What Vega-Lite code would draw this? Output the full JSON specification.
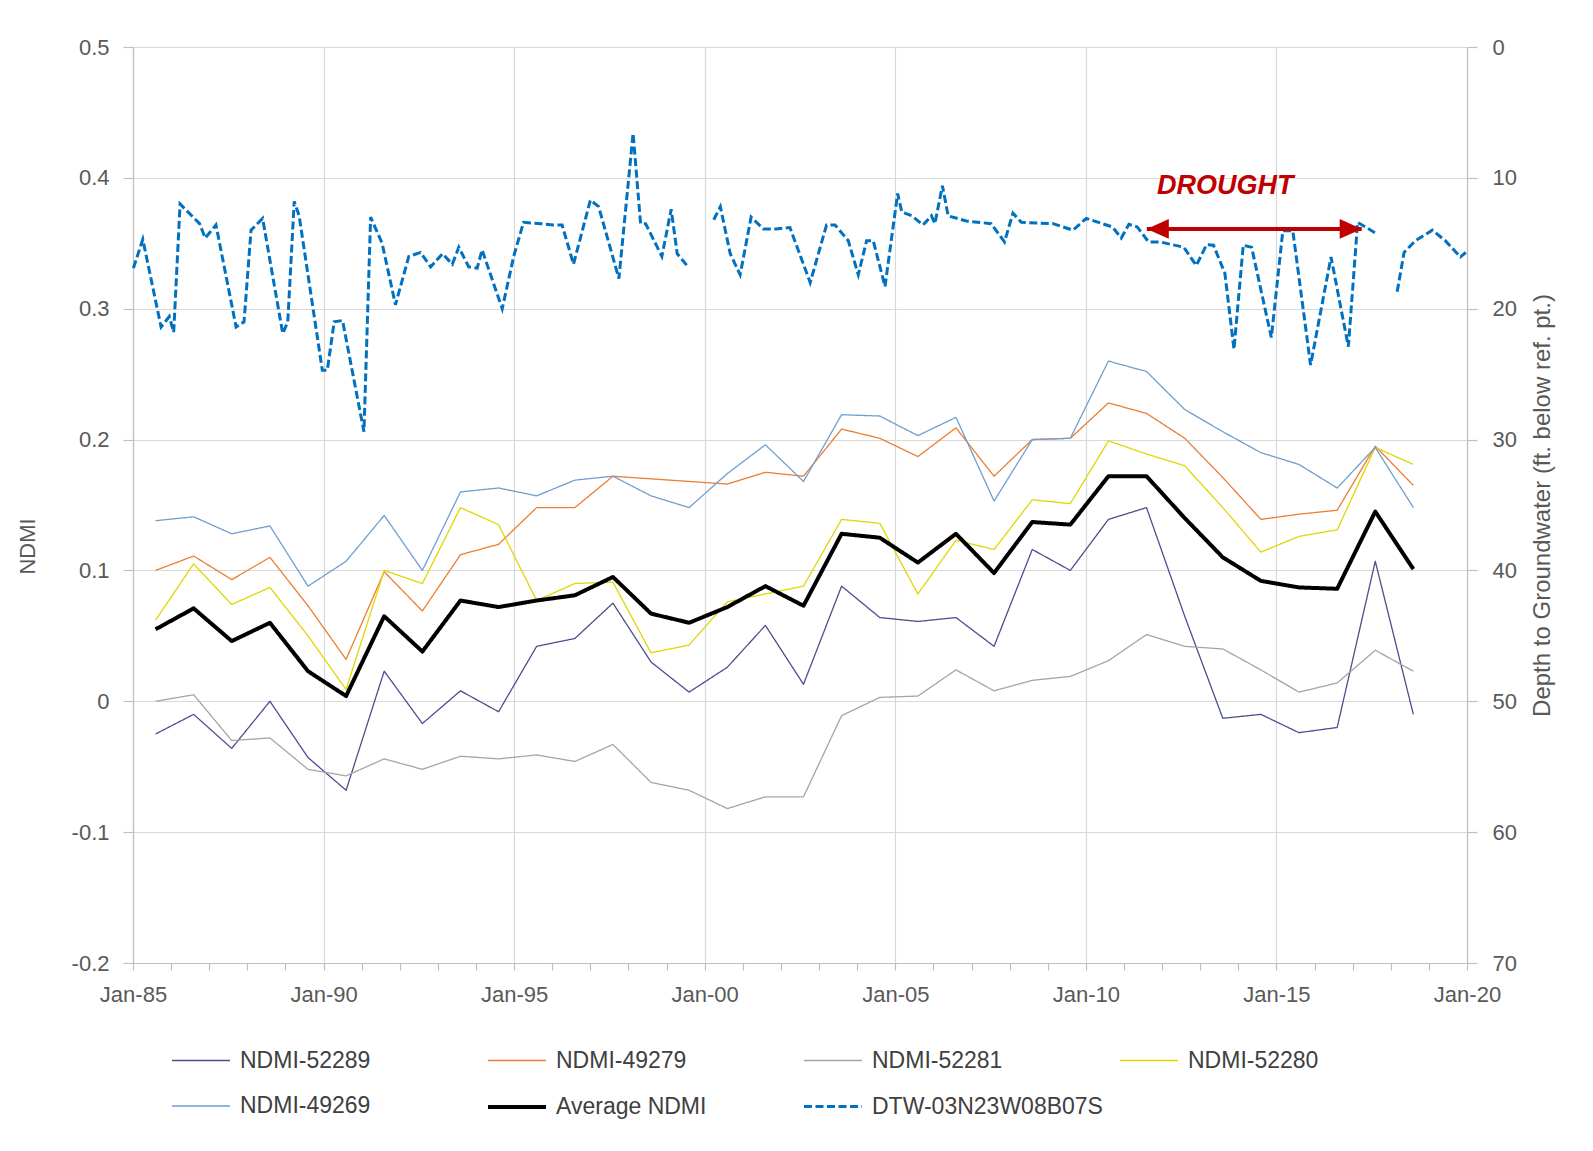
{
  "$schema": "https://vega.github.io/schema/vega-lite/v6.json",
  "width": 1334,
  "height": 916,
  "autosize": {"type": "none"},
  "padding": {"left": 133, "top": 47, "right": 126, "bottom": 188},
  "background": "white",
  "config": {
    "font": "Liberation Sans",
    "view": {"stroke": null},
    "axis": {
      "labelFont": "Liberation Sans",
      "labelFontSize": 22,
      "labelColor": "#595959",
      "titleFont": "Liberation Sans",
      "titleFontSize": 22,
      "titleFontWeight": "normal",
      "titleColor": "#595959",
      "gridColor": "#D9D9D9",
      "gridWidth": 1.2,
      "domainColor": "#BFBFBF",
      "domainWidth": 1.2,
      "tickColor": "#BFBFBF",
      "tickWidth": 1.2
    }
  },
  "datasets": {
    "ndmi": [
      {"date": "1985-08-05", "NDMI-52289": -0.025, "NDMI-49279": 0.100, "NDMI-52281": 0.000, "NDMI-52280": 0.062, "NDMI-49269": 0.138, "Average NDMI": 0.055},
      {"date": "1986-08-05", "NDMI-52289": -0.010, "NDMI-49279": 0.111, "NDMI-52281": 0.005, "NDMI-52280": 0.105, "NDMI-49269": 0.141, "Average NDMI": 0.071},
      {"date": "1987-08-05", "NDMI-52289": -0.036, "NDMI-49279": 0.093, "NDMI-52281": -0.030, "NDMI-52280": 0.074, "NDMI-49269": 0.128, "Average NDMI": 0.046},
      {"date": "1988-08-05", "NDMI-52289": 0.000, "NDMI-49279": 0.110, "NDMI-52281": -0.028, "NDMI-52280": 0.087, "NDMI-49269": 0.134, "Average NDMI": 0.060},
      {"date": "1989-08-05", "NDMI-52289": -0.043, "NDMI-49279": 0.073, "NDMI-52281": -0.052, "NDMI-52280": 0.050, "NDMI-49269": 0.088, "Average NDMI": 0.023},
      {"date": "1990-08-05", "NDMI-52289": -0.068, "NDMI-49279": 0.032, "NDMI-52281": -0.057, "NDMI-52280": 0.009, "NDMI-49269": 0.107, "Average NDMI": 0.004},
      {"date": "1991-08-05", "NDMI-52289": 0.023, "NDMI-49279": 0.099, "NDMI-52281": -0.044, "NDMI-52280": 0.100, "NDMI-49269": 0.142, "Average NDMI": 0.065},
      {"date": "1992-08-05", "NDMI-52289": -0.017, "NDMI-49279": 0.069, "NDMI-52281": -0.052, "NDMI-52280": 0.090, "NDMI-49269": 0.100, "Average NDMI": 0.038},
      {"date": "1993-08-05", "NDMI-52289": 0.008, "NDMI-49279": 0.112, "NDMI-52281": -0.042, "NDMI-52280": 0.148, "NDMI-49269": 0.160, "Average NDMI": 0.077},
      {"date": "1994-08-05", "NDMI-52289": -0.008, "NDMI-49279": 0.120, "NDMI-52281": -0.044, "NDMI-52280": 0.135, "NDMI-49269": 0.163, "Average NDMI": 0.072},
      {"date": "1995-08-05", "NDMI-52289": 0.042, "NDMI-49279": 0.148, "NDMI-52281": -0.041, "NDMI-52280": 0.077, "NDMI-49269": 0.157, "Average NDMI": 0.077},
      {"date": "1996-08-05", "NDMI-52289": 0.048, "NDMI-49279": 0.148, "NDMI-52281": -0.046, "NDMI-52280": 0.090, "NDMI-49269": 0.169, "Average NDMI": 0.081},
      {"date": "1997-08-05", "NDMI-52289": 0.075, "NDMI-49279": 0.172, "NDMI-52281": -0.033, "NDMI-52280": 0.091, "NDMI-49269": 0.172, "Average NDMI": 0.095},
      {"date": "1998-08-05", "NDMI-52289": 0.030, "NDMI-49279": 0.170, "NDMI-52281": -0.062, "NDMI-52280": 0.037, "NDMI-49269": 0.157, "Average NDMI": 0.067},
      {"date": "1999-08-05", "NDMI-52289": 0.007, "NDMI-49279": 0.168, "NDMI-52281": -0.068, "NDMI-52280": 0.043, "NDMI-49269": 0.148, "Average NDMI": 0.060},
      {"date": "2000-08-05", "NDMI-52289": 0.026, "NDMI-49279": 0.166, "NDMI-52281": -0.082, "NDMI-52280": 0.076, "NDMI-49269": 0.174, "Average NDMI": 0.072},
      {"date": "2001-08-05", "NDMI-52289": 0.058, "NDMI-49279": 0.175, "NDMI-52281": -0.073, "NDMI-52280": 0.082, "NDMI-49269": 0.196, "Average NDMI": 0.088},
      {"date": "2002-08-05", "NDMI-52289": 0.013, "NDMI-49279": 0.172, "NDMI-52281": -0.073, "NDMI-52280": 0.088, "NDMI-49269": 0.168, "Average NDMI": 0.073},
      {"date": "2003-08-05", "NDMI-52289": 0.088, "NDMI-49279": 0.208, "NDMI-52281": -0.011, "NDMI-52280": 0.139, "NDMI-49269": 0.219, "Average NDMI": 0.128},
      {"date": "2004-08-05", "NDMI-52289": 0.064, "NDMI-49279": 0.201, "NDMI-52281": 0.003, "NDMI-52280": 0.136, "NDMI-49269": 0.218, "Average NDMI": 0.125},
      {"date": "2005-08-05", "NDMI-52289": 0.061, "NDMI-49279": 0.187, "NDMI-52281": 0.004, "NDMI-52280": 0.082, "NDMI-49269": 0.203, "Average NDMI": 0.106},
      {"date": "2006-08-05", "NDMI-52289": 0.064, "NDMI-49279": 0.209, "NDMI-52281": 0.024, "NDMI-52280": 0.123, "NDMI-49269": 0.217, "Average NDMI": 0.128},
      {"date": "2007-08-05", "NDMI-52289": 0.042, "NDMI-49279": 0.172, "NDMI-52281": 0.008, "NDMI-52280": 0.116, "NDMI-49269": 0.153, "Average NDMI": 0.098},
      {"date": "2008-08-05", "NDMI-52289": 0.116, "NDMI-49279": 0.200, "NDMI-52281": 0.016, "NDMI-52280": 0.154, "NDMI-49269": 0.200, "Average NDMI": 0.137},
      {"date": "2009-08-05", "NDMI-52289": 0.100, "NDMI-49279": 0.201, "NDMI-52281": 0.019, "NDMI-52280": 0.151, "NDMI-49269": 0.201, "Average NDMI": 0.135},
      {"date": "2010-08-05", "NDMI-52289": 0.139, "NDMI-49279": 0.228, "NDMI-52281": 0.031, "NDMI-52280": 0.199, "NDMI-49269": 0.260, "Average NDMI": 0.172},
      {"date": "2011-08-05", "NDMI-52289": 0.148, "NDMI-49279": 0.220, "NDMI-52281": 0.051, "NDMI-52280": 0.189, "NDMI-49269": 0.252, "Average NDMI": 0.172},
      {"date": "2012-08-05", "NDMI-52289": 0.065, "NDMI-49279": 0.201, "NDMI-52281": 0.042, "NDMI-52280": 0.180, "NDMI-49269": 0.223, "Average NDMI": 0.140},
      {"date": "2013-08-05", "NDMI-52289": -0.013, "NDMI-49279": 0.171, "NDMI-52281": 0.040, "NDMI-52280": 0.148, "NDMI-49269": 0.206, "Average NDMI": 0.110},
      {"date": "2014-08-05", "NDMI-52289": -0.010, "NDMI-49279": 0.139, "NDMI-52281": 0.024, "NDMI-52280": 0.114, "NDMI-49269": 0.190, "Average NDMI": 0.092},
      {"date": "2015-08-05", "NDMI-52289": -0.024, "NDMI-49279": 0.143, "NDMI-52281": 0.007, "NDMI-52280": 0.126, "NDMI-49269": 0.181, "Average NDMI": 0.087},
      {"date": "2016-08-05", "NDMI-52289": -0.020, "NDMI-49279": 0.146, "NDMI-52281": 0.014, "NDMI-52280": 0.131, "NDMI-49269": 0.163, "Average NDMI": 0.086},
      {"date": "2017-08-05", "NDMI-52289": 0.107, "NDMI-49279": 0.195, "NDMI-52281": 0.039, "NDMI-52280": 0.194, "NDMI-49269": 0.194, "Average NDMI": 0.145},
      {"date": "2018-08-05", "NDMI-52289": -0.010, "NDMI-49279": 0.165, "NDMI-52281": 0.023, "NDMI-52280": 0.181, "NDMI-49269": 0.148, "Average NDMI": 0.101}
    ],
    "dtw": [
      {"date": "1985-01-05", "DTW-03N23W08B07S": 16.9},
      {"date": "1985-04-05", "DTW-03N23W08B07S": 14.7},
      {"date": "1985-09-27", "DTW-03N23W08B07S": 21.4},
      {"date": "1985-12-15", "DTW-03N23W08B07S": 20.6},
      {"date": "1986-01-26", "DTW-03N23W08B07S": 21.8},
      {"date": "1986-03-28", "DTW-03N23W08B07S": 12.0},
      {"date": "1986-10-01", "DTW-03N23W08B07S": 13.5},
      {"date": "1986-11-24", "DTW-03N23W08B07S": 14.6},
      {"date": "1987-03-07", "DTW-03N23W08B07S": 13.6},
      {"date": "1987-09-16", "DTW-03N23W08B07S": 21.4},
      {"date": "1987-12-01", "DTW-03N23W08B07S": 21.0},
      {"date": "1988-02-06", "DTW-03N23W08B07S": 14.0},
      {"date": "1988-05-27", "DTW-03N23W08B07S": 13.1},
      {"date": "1988-12-06", "DTW-03N23W08B07S": 21.9},
      {"date": "1989-01-23", "DTW-03N23W08B07S": 21.0},
      {"date": "1989-03-26", "DTW-03N23W08B07S": 11.8},
      {"date": "1989-05-12", "DTW-03N23W08B07S": 12.9},
      {"date": "1989-12-20", "DTW-03N23W08B07S": 24.7},
      {"date": "1990-02-06", "DTW-03N23W08B07S": 24.7},
      {"date": "1990-04-13", "DTW-03N23W08B07S": 21.0},
      {"date": "1990-07-02", "DTW-03N23W08B07S": 20.9},
      {"date": "1991-01-23", "DTW-03N23W08B07S": 29.4},
      {"date": "1991-03-28", "DTW-03N23W08B07S": 13.0},
      {"date": "1991-07-16", "DTW-03N23W08B07S": 15.0},
      {"date": "1991-11-21", "DTW-03N23W08B07S": 19.7},
      {"date": "1992-03-28", "DTW-03N23W08B07S": 16.0},
      {"date": "1992-07-19", "DTW-03N23W08B07S": 15.7},
      {"date": "1992-10-23", "DTW-03N23W08B07S": 16.8},
      {"date": "1993-02-14", "DTW-03N23W08B07S": 15.8},
      {"date": "1993-05-19", "DTW-03N23W08B07S": 16.6},
      {"date": "1993-07-20", "DTW-03N23W08B07S": 15.3},
      {"date": "1993-10-23", "DTW-03N23W08B07S": 16.8},
      {"date": "1994-01-12", "DTW-03N23W08B07S": 16.9},
      {"date": "1994-02-28", "DTW-03N23W08B07S": 15.5},
      {"date": "1994-09-09", "DTW-03N23W08B07S": 20.0},
      {"date": "1994-12-28", "DTW-03N23W08B07S": 16.0},
      {"date": "1995-04-01", "DTW-03N23W08B07S": 13.4},
      {"date": "1995-09-15", "DTW-03N23W08B07S": 13.5},
      {"date": "1996-01-10", "DTW-03N23W08B07S": 13.6},
      {"date": "1996-04-05", "DTW-03N23W08B07S": 13.6},
      {"date": "1996-07-23", "DTW-03N23W08B07S": 16.6},
      {"date": "1997-01-01", "DTW-03N23W08B07S": 11.7},
      {"date": "1997-03-21", "DTW-03N23W08B07S": 12.2},
      {"date": "1997-10-01", "DTW-03N23W08B07S": 17.7},
      {"date": "1998-02-14", "DTW-03N23W08B07S": 6.6},
      {"date": "1998-04-27", "DTW-03N23W08B07S": 13.5},
      {"date": "1998-06-14", "DTW-03N23W08B07S": 13.5},
      {"date": "1998-11-17", "DTW-03N23W08B07S": 16.0},
      {"date": "1999-02-14", "DTW-03N23W08B07S": 12.4},
      {"date": "1999-04-13", "DTW-03N23W08B07S": 15.8},
      {"date": "1999-07-16", "DTW-03N23W08B07S": 16.7},
      {"date": "1999-10-15", "DTW-03N23W08B07S": null},
      {"date": "2000-03-28", "DTW-03N23W08B07S": 13.2},
      {"date": "2000-05-30", "DTW-03N23W08B07S": 12.2},
      {"date": "2000-09-02", "DTW-03N23W08B07S": 15.8},
      {"date": "2000-12-06", "DTW-03N23W08B07S": 17.4},
      {"date": "2001-03-21", "DTW-03N23W08B07S": 13.0},
      {"date": "2001-07-16", "DTW-03N23W08B07S": 13.9},
      {"date": "2001-11-15", "DTW-03N23W08B07S": 13.9},
      {"date": "2002-03-28", "DTW-03N23W08B07S": 13.8},
      {"date": "2002-10-08", "DTW-03N23W08B07S": 18.0},
      {"date": "2003-03-14", "DTW-03N23W08B07S": 13.6},
      {"date": "2003-06-03", "DTW-03N23W08B07S": 13.6},
      {"date": "2003-10-08", "DTW-03N23W08B07S": 14.8},
      {"date": "2004-01-12", "DTW-03N23W08B07S": 17.4},
      {"date": "2004-04-01", "DTW-03N23W08B07S": 14.8},
      {"date": "2004-06-03", "DTW-03N23W08B07S": 14.8},
      {"date": "2004-09-24", "DTW-03N23W08B07S": 18.3},
      {"date": "2005-01-23", "DTW-03N23W08B07S": 11.2},
      {"date": "2005-03-04", "DTW-03N23W08B07S": 12.6},
      {"date": "2005-06-07", "DTW-03N23W08B07S": 12.9},
      {"date": "2005-09-24", "DTW-03N23W08B07S": 13.6},
      {"date": "2005-12-13", "DTW-03N23W08B07S": 12.9},
      {"date": "2006-01-15", "DTW-03N23W08B07S": 13.5},
      {"date": "2006-03-28", "DTW-03N23W08B07S": 10.6},
      {"date": "2006-05-22", "DTW-03N23W08B07S": 12.9},
      {"date": "2006-11-13", "DTW-03N23W08B07S": 13.3},
      {"date": "2007-07-08", "DTW-03N23W08B07S": 13.5},
      {"date": "2007-11-13", "DTW-03N23W08B07S": 14.9},
      {"date": "2008-02-02", "DTW-03N23W08B07S": 12.7},
      {"date": "2008-04-23", "DTW-03N23W08B07S": 13.4},
      {"date": "2009-02-21", "DTW-03N23W08B07S": 13.5},
      {"date": "2009-08-29", "DTW-03N23W08B07S": 14.0},
      {"date": "2010-01-05", "DTW-03N23W08B07S": 13.1},
      {"date": "2010-09-12", "DTW-03N23W08B07S": 13.75},
      {"date": "2010-12-06", "DTW-03N23W08B07S": 14.6},
      {"date": "2011-02-17", "DTW-03N23W08B07S": 13.55},
      {"date": "2011-05-08", "DTW-03N23W08B07S": 13.75},
      {"date": "2011-08-25", "DTW-03N23W08B07S": 14.9},
      {"date": "2011-12-15", "DTW-03N23W08B07S": 14.9},
      {"date": "2012-07-27", "DTW-03N23W08B07S": 15.3},
      {"date": "2012-11-24", "DTW-03N23W08B07S": 16.7},
      {"date": "2013-03-03", "DTW-03N23W08B07S": 15.1},
      {"date": "2013-05-08", "DTW-03N23W08B07S": 15.15},
      {"date": "2013-08-25", "DTW-03N23W08B07S": 17.3},
      {"date": "2013-11-20", "DTW-03N23W08B07S": 23.1},
      {"date": "2014-02-17", "DTW-03N23W08B07S": 15.15},
      {"date": "2014-05-08", "DTW-03N23W08B07S": 15.3},
      {"date": "2014-11-13", "DTW-03N23W08B07S": 22.2},
      {"date": "2015-03-03", "DTW-03N23W08B07S": 14.05},
      {"date": "2015-06-07", "DTW-03N23W08B07S": 14.05},
      {"date": "2015-11-24", "DTW-03N23W08B07S": 24.3},
      {"date": "2016-06-07", "DTW-03N23W08B07S": 16.05},
      {"date": "2016-11-20", "DTW-03N23W08B07S": 22.9},
      {"date": "2017-02-17", "DTW-03N23W08B07S": 13.4},
      {"date": "2017-08-25", "DTW-03N23W08B07S": 14.3},
      {"date": "2017-11-15", "DTW-03N23W08B07S": null},
      {"date": "2018-03-03", "DTW-03N23W08B07S": 18.7},
      {"date": "2018-05-08", "DTW-03N23W08B07S": 15.7},
      {"date": "2018-08-25", "DTW-03N23W08B07S": 14.8},
      {"date": "2019-02-03", "DTW-03N23W08B07S": 14.0},
      {"date": "2019-06-07", "DTW-03N23W08B07S": 14.8},
      {"date": "2019-10-30", "DTW-03N23W08B07S": 16.05},
      {"date": "2019-12-20", "DTW-03N23W08B07S": 15.7}
    ],
    "events": [
      {"event": "DROUGHT", "start": "2011-08-08", "end": "2017-03-28", "depth": 13.9, "labelDate": "2013-08-28", "labelDepth": 10.6}
    ]
  },
  "layer": [
    {
      "data": {"name": "ndmi"},
      "transform": [
        {"fold": ["NDMI-52289", "NDMI-49279", "NDMI-52281", "NDMI-52280", "NDMI-49269", "Average NDMI"], "as": ["series", "ndmi"]}
      ],
      "mark": {"type": "line", "strokeJoin": "round"},
      "encoding": {
        "x": {
          "field": "date", "type": "temporal", "title": null,
          "scale": {"domain": [{"year": 1985, "month": 1, "date": 1}, {"year": 2020, "month": 1, "date": 1}]},
          "axis": {
            "tickCount": {"interval": "year", "step": 1},
            "labelExpr": "year(datum.value) % 5 === 0 ? timeFormat(datum.value, '%b-%y') : ''",
            "labelOverlap": false,
            "labelFlush": false,
            "labelPadding": 14,
            "tickSize": 7,
            "grid": true,
            "gridOpacity": {"condition": {"test": "year(datum.value) % 5 === 0", "value": 1}, "value": 0}
          }
        },
        "y": {
          "field": "ndmi", "type": "quantitative",
          "scale": {"domain": [-0.2, 0.5], "nice": false},
          "axis": {
            "title": "NDMI",
            "values": [-0.2, -0.1, 0, 0.1, 0.2, 0.3, 0.4, 0.5],
            "labelExpr": "(datum.value < 0 ? '-' : '') + format(abs(datum.value), '~g')",
            "tickSize": 10,
            "labelPadding": 14,
            "titlePadding": 32,
            "titleY": 499,
            "grid": true
          }
        },
        "color": {
          "field": "series", "type": "nominal",
          "scale": {
            "domain": ["NDMI-52289", "NDMI-49279", "NDMI-52281", "NDMI-52280", "NDMI-49269", "Average NDMI", "DTW-03N23W08B07S"],
            "range": ["#4A4F8E", "#ED7D31", "#A5A5A5", "#E2D600", "#6F9FD0", "#000000", "#0070C0"]
          },
          "legend": {
            "title": null,
            "orient": "none",
            "legendX": 37,
            "legendY": 983,
            "direction": "horizontal",
            "columns": 4,
            "gridAlign": "all",
            "columnPadding": 9,
            "rowPadding": 3,
            "symbolType": "stroke",
            "symbolSize": 3364,
            "labelFont": "Liberation Sans",
            "labelFontSize": 23,
            "labelColor": "#404040",
            "labelOffset": 8,
            "labelLimit": 400
          }
        },
        "strokeWidth": {
          "field": "series", "type": "nominal",
          "scale": {
            "type": "ordinal",
            "domain": ["NDMI-52289", "NDMI-49279", "NDMI-52281", "NDMI-52280", "NDMI-49269", "Average NDMI", "DTW-03N23W08B07S"],
            "range": [1.3, 1.3, 1.3, 1.3, 1.3, 4, 3]
          },
          "legend": {"title": null, "orient": "none"}
        },
        "strokeDash": {
          "field": "series", "type": "nominal",
          "scale": {
            "domain": ["NDMI-52289", "NDMI-49279", "NDMI-52281", "NDMI-52280", "NDMI-49269", "Average NDMI", "DTW-03N23W08B07S"],
            "range": [[1, 0], [1, 0], [1, 0], [1, 0], [1, 0], [1, 0], [8, 3.5]]
          },
          "legend": {"title": null, "orient": "none"}
        }
      }
    },
    {
      "layer": [
        {
          "data": {"name": "dtw"},
          "transform": [
            {"fold": ["DTW-03N23W08B07S"], "as": ["series", "depth"]}
          ],
          "mark": {"type": "line", "invalid": "break-paths-show-domains"},
          "encoding": {
            "x": {"field": "date", "type": "temporal", "title": null},
            "y": {
              "field": "depth", "type": "quantitative",
              "title": "Depth to Groundwater  (ft. below ref. pt.)",
              "scale": {"domain": [0, 70], "reverse": true, "nice": false},
              "axis": {
                "orient": "right",
                "values": [0, 10, 20, 30, 40, 50, 60, 70],
                "tickSize": 10,
                "labelPadding": 15,
                "titlePadding": 14,
                "titleFontSize": 24,
                "titleAngle": 270,
                "titleBaseline": "top",
                "grid": false
              }
            },
            "color": {
              "field": "series", "type": "nominal",
              "scale": {
                "domain": ["NDMI-52289", "NDMI-49279", "NDMI-52281", "NDMI-52280", "NDMI-49269", "Average NDMI", "DTW-03N23W08B07S"],
                "range": ["#4A4F8E", "#ED7D31", "#A5A5A5", "#E2D600", "#6F9FD0", "#000000", "#0070C0"]
              },
              "legend": {"title": null, "orient": "none"}
            },
            "strokeWidth": {
              "field": "series", "type": "nominal",
              "scale": {
                "type": "ordinal",
                "domain": ["NDMI-52289", "NDMI-49279", "NDMI-52281", "NDMI-52280", "NDMI-49269", "Average NDMI", "DTW-03N23W08B07S"],
                "range": [1.3, 1.3, 1.3, 1.3, 1.3, 4, 3]
              },
              "legend": {"title": null, "orient": "none"}
            },
            "strokeDash": {
              "field": "series", "type": "nominal",
              "scale": {
                "domain": ["NDMI-52289", "NDMI-49279", "NDMI-52281", "NDMI-52280", "NDMI-49269", "Average NDMI", "DTW-03N23W08B07S"],
                "range": [[1, 0], [1, 0], [1, 0], [1, 0], [1, 0], [1, 0], [8, 3.5]]
              },
              "legend": {"title": null, "orient": "none"}
            }
          }
        },
        {
          "data": {"name": "events"},
          "mark": {"type": "rule", "color": "#C00000", "strokeWidth": 4},
          "encoding": {
            "x": {"field": "start", "type": "temporal", "title": null},
            "x2": {"field": "end"},
            "y": {"field": "depth", "type": "quantitative", "title": "Depth to Groundwater  (ft. below ref. pt.)"}
          }
        },
        {
          "data": {"name": "events"},
          "mark": {"type": "point", "shape": "M-1,0L1,-0.9L1,0.9Z", "filled": true, "color": "#C00000", "opacity": 1, "size": 484, "xOffset": 11},
          "encoding": {
            "x": {"field": "start", "type": "temporal", "title": null},
            "y": {"field": "depth", "type": "quantitative", "title": "Depth to Groundwater  (ft. below ref. pt.)"}
          }
        },
        {
          "data": {"name": "events"},
          "mark": {"type": "point", "shape": "M1,0L-1,-0.9L-1,0.9Z", "filled": true, "color": "#C00000", "opacity": 1, "size": 484, "xOffset": -11},
          "encoding": {
            "x": {"field": "end", "type": "temporal", "title": null},
            "y": {"field": "depth", "type": "quantitative", "title": "Depth to Groundwater  (ft. below ref. pt.)"}
          }
        },
        {
          "data": {"name": "events"},
          "mark": {"type": "text", "color": "#C00000", "font": "Liberation Sans", "fontSize": 27, "fontWeight": "bold", "fontStyle": "italic", "align": "center", "baseline": "middle"},
          "encoding": {
            "x": {"field": "labelDate", "type": "temporal", "title": null},
            "y": {"field": "labelDepth", "type": "quantitative", "title": "Depth to Groundwater  (ft. below ref. pt.)"},
            "text": {"field": "event"}
          }
        }
      ]
    }
  ],
  "resolve": {"scale": {"y": "independent"}}
}
